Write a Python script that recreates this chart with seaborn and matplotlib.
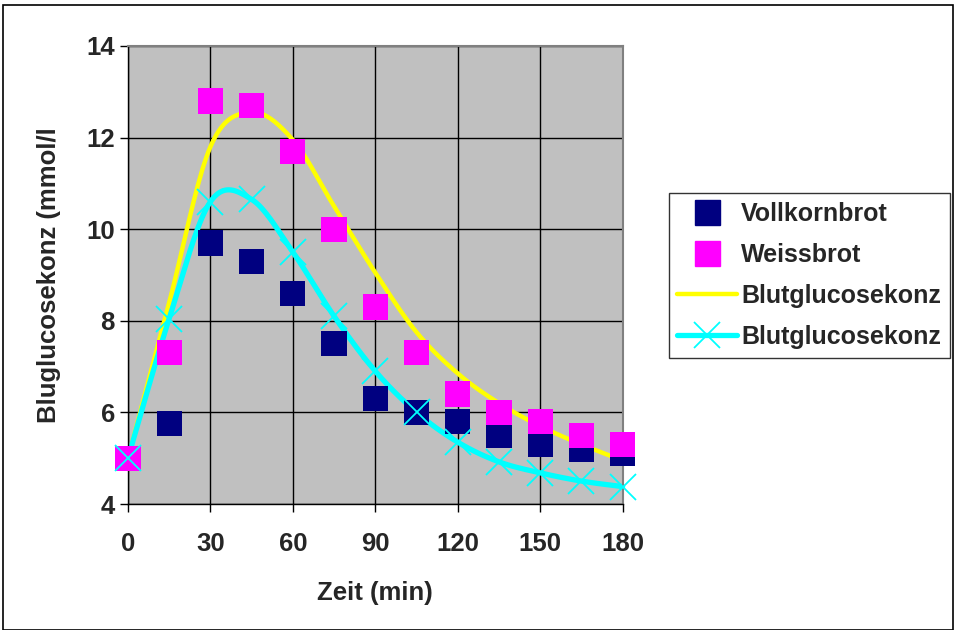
import numpy as np
import pandas as pd
import matplotlib
matplotlib.use("Agg")
import matplotlib.pyplot as plt
import seaborn as sns
from matplotlib.patches import Rectangle

# values
zeit = [0, 15, 30, 45, 60, 75, 90, 105, 120, 135, 150, 165, 180]
vollkornbrot = [5.0, 5.75, 9.7, 9.3, 8.6, 7.5, 6.3, 6.0, 5.8, 5.5, 5.3, 5.2, 5.1]
weissbrot = [5.0, 7.3, 12.8, 12.7, 11.7, 10.0, 8.3, 7.3, 6.4, 6.0, 5.8, 5.5, 5.3]
kurve_weiss = [5.0, 8.4, 11.8, 12.55, 11.95, 10.5, 9.05, 7.75, 6.85, 6.2, 5.7, 5.3, 4.95]
kurve_voll = [5.0, 8.05, 10.6, 10.65, 9.5, 8.1, 6.9, 6.0, 5.35, 4.92, 4.68, 4.5, 4.38]

x_ticks = [0, 30, 60, 90, 120, 150, 180]
y_ticks = [4, 6, 8, 10, 12, 14]


def smooth(xs, ys, n=20):
    # excel-style smoothed line (catmull-rom through the points)
    xs = np.asarray(xs, float)
    ys = np.asarray(ys, float)
    pts = np.column_stack([xs, ys])
    p = np.vstack([pts[0], pts, pts[-1]])
    out = []
    t = np.linspace(0, 1, n, endpoint=False)
    for i in range(1, len(p) - 2):
        p0, p1, p2, p3 = p[i - 1], p[i], p[i + 1], p[i + 2]
        c1 = p1 + (p2 - p0) / 6
        c2 = p2 - (p3 - p1) / 6
        seg = ((1 - t) ** 3)[:, None] * p1 + (3 * (1 - t) ** 2 * t)[:, None] * c1 \
            + (3 * (1 - t) * t ** 2)[:, None] * c2 + (t ** 3)[:, None] * p2
        out.append(seg)
    out.append(pts[-1:])
    out = np.vstack(out)
    return out[:, 0], out[:, 1]


sns.set_style("white")
plt.rcParams["font.family"] = ["Liberation Sans", "DejaVu Sans"]
plt.rcParams["font.weight"] = "bold"

fig = plt.figure(figsize=(9.55, 6.3), dpi=100)
ax = fig.add_axes([0.134, 0.2, 0.518, 0.727])
ax.set_facecolor("#C0C0C0")

df = pd.DataFrame({"zeit": zeit, "voll": vollkornbrot, "weiss": weissbrot})

wx, wy = smooth(zeit, kurve_weiss)
vx, vy = smooth(zeit, kurve_voll)
ax.plot(wx, wy, color="#FFFF00", lw=3.2, zorder=2, clip_on=False)
ax.plot(vx, vy, color="#00FFFF", lw=3.8, zorder=2, clip_on=False)

sns.scatterplot(data=df, x="zeit", y="voll", marker="s", s=330, color="#000080",
                edgecolor="none", linewidth=0, ax=ax, zorder=3, legend=False, clip_on=False)
sns.scatterplot(data=df, x="zeit", y="weiss", marker="s", s=330, color="#FF00FF",
                edgecolor="none", linewidth=0, ax=ax, zorder=3, legend=False, clip_on=False)
ax.plot(zeit, kurve_voll, ls="none", marker="x", ms=19, mew=1.3, color="#00FFFF",
        zorder=4, clip_on=False)

ax.set_xlim(0, 180)
ax.set_ylim(4, 14)
ax.set_xticks(x_ticks)
ax.set_yticks(y_ticks)
ax.grid(True, color="black", lw=1)
ax.set_axisbelow(True)
for s in ["top", "right"]:
    ax.spines[s].set_color("#808080")
    ax.spines[s].set_linewidth(1.5)
for s in ["left", "bottom"]:
    ax.spines[s].set_color("black")
    ax.spines[s].set_linewidth(1)
ax.tick_params(axis="both", direction="out", length=6, width=1, color="black",
               labelsize=18.5, bottom=True, left=True)
ax.tick_params(axis="x", pad=14)
for lab in ax.get_xticklabels() + ax.get_yticklabels():
    lab.set_fontweight("bold")

ax.set_xlabel("Zeit (min)", fontsize=18.5, fontweight="bold", labelpad=18)
ax.set_ylabel("Bluglucosekonz (mmol/l", fontsize=18.5, fontweight="bold", labelpad=18)

# legend in excel order
h_voll = plt.Line2D([], [], ls="none", marker="s", ms=18, color="#000080")
h_weiss = plt.Line2D([], [], ls="none", marker="s", ms=18, color="#FF00FF")
h_gelb = plt.Line2D([], [], color="#FFFF00", lw=3.2)
h_cyan = plt.Line2D([], [], color="#00FFFF", lw=3.8, marker="x", ms=19, mew=1.3)
leg = fig.legend([h_voll, h_weiss, h_gelb, h_cyan],
                 ["Vollkornbrot", "Weissbrot", "Blutglucosekonz", "Blutglucosekonz"],
                 loc="center left", bbox_to_anchor=(0.700, 0.5626),
                 prop={"size": 18, "weight": "bold"}, frameon=True, fancybox=False,
                 borderpad=0.35, labelspacing=0.68, handlelength=2.4, handletextpad=0.15,
                 borderaxespad=0)
leg.get_frame().set_edgecolor("black")
leg.get_frame().set_linewidth(1)

# outer chart border
fig.patches.append(Rectangle((3 / 955, 0.0), 950 / 955, 1 - 5 / 630, transform=fig.transFigure,
                             fill=False, edgecolor="black", lw=1.2))

fig.savefig("out.png", dpi=100)
